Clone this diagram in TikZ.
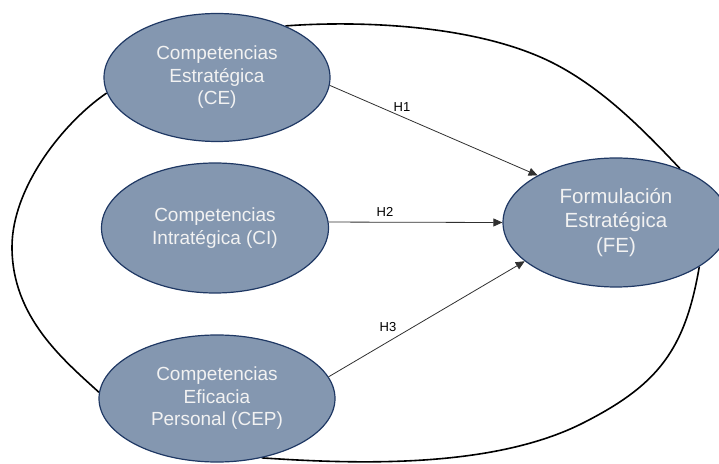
\documentclass[tikz,border=0pt]{standalone}
\usepackage{fontspec}
\setmainfont{Liberation Sans}
\usetikzlibrary{shapes.geometric,arrows.meta,backgrounds}
\definecolor{nodefill}{HTML}{8497B0}
\definecolor{nodeline}{HTML}{1F3864}
\definecolor{nodetext}{HTML}{F2F2F2}
\definecolor{arrowcol}{HTML}{303030}
\tikzset{
  construct/.style={ellipse, draw=nodeline, line width=1.2pt, fill=nodefill,
    text=nodetext, align=center, inner sep=0pt,
    font=\fontsize{19}{22.5}\selectfont},
  hyp/.style={draw=arrowcol, line width=0.8pt, -{Triangle[length=9pt,width=8pt]}},
  hlabel/.style={font=\fontsize{13}{15}\selectfont, text=black, inner sep=0pt},
  loopline/.style={draw=black, line width=1.6pt}
}
\begin{document}
\begin{tikzpicture}[x=1pt,y=1pt]
\useasboundingbox (0,0) rectangle (719,463);
\clip (0,0) rectangle (719,463);
\node[construct, minimum width=226pt, minimum height=128pt] (CE) at (217,385.5)
  {Competencias\\Estratégica\\(CE)};
\node[construct, minimum width=227pt, minimum height=130pt] (CI) at (215,235)
  {Competencias\\Intratégica (CI)};
\node[construct, minimum width=236pt, minimum height=127pt] (CEP) at (217,64.5)
  {Competencias\\Eficacia\\Personal (CEP)};
\node[construct, minimum width=226pt, minimum height=129pt,
  font=\fontsize{20.5}{24.5}\selectfont] (FE) at (616,240.5)
  {Formulación\\Estratégica\\(FE)};
\coordinate (leftmid) at (12,216);
\coordinate (topmid) at (553,400);
\coordinate (botmid) at (583,40);
\begin{pgfonlayer}{background}
\draw[loopline] (CE.188) .. controls (64,341) and (12,276) .. (leftmid)
  .. controls (12,146) and (63,103.5) .. (CEP.177);
\draw[loopline] (CE.37) .. controls (350,442) and (473,440.5) .. (topmid)
  .. controls (602,375) and (642,334.7) .. (FE.40);
\draw[loopline] (FE.-28) .. controls (685,113) and (658,78) .. (botmid)
  .. controls (494,-5) and (361,-1.6) .. (CEP.-53);
\end{pgfonlayer}
\draw[hyp] (CE.-4) -- (FE.149);
\draw[hyp] (CI.3) -- (FE.180);
\draw[hyp] (CEP.11) -- (FE.203.5);
\node[hlabel] (h1) at (402,356) {H1};
\node[hlabel] (h2) at (385,251) {H2};
\node[hlabel] (h3) at (388,136) {H3};
\end{tikzpicture}
\end{document}
